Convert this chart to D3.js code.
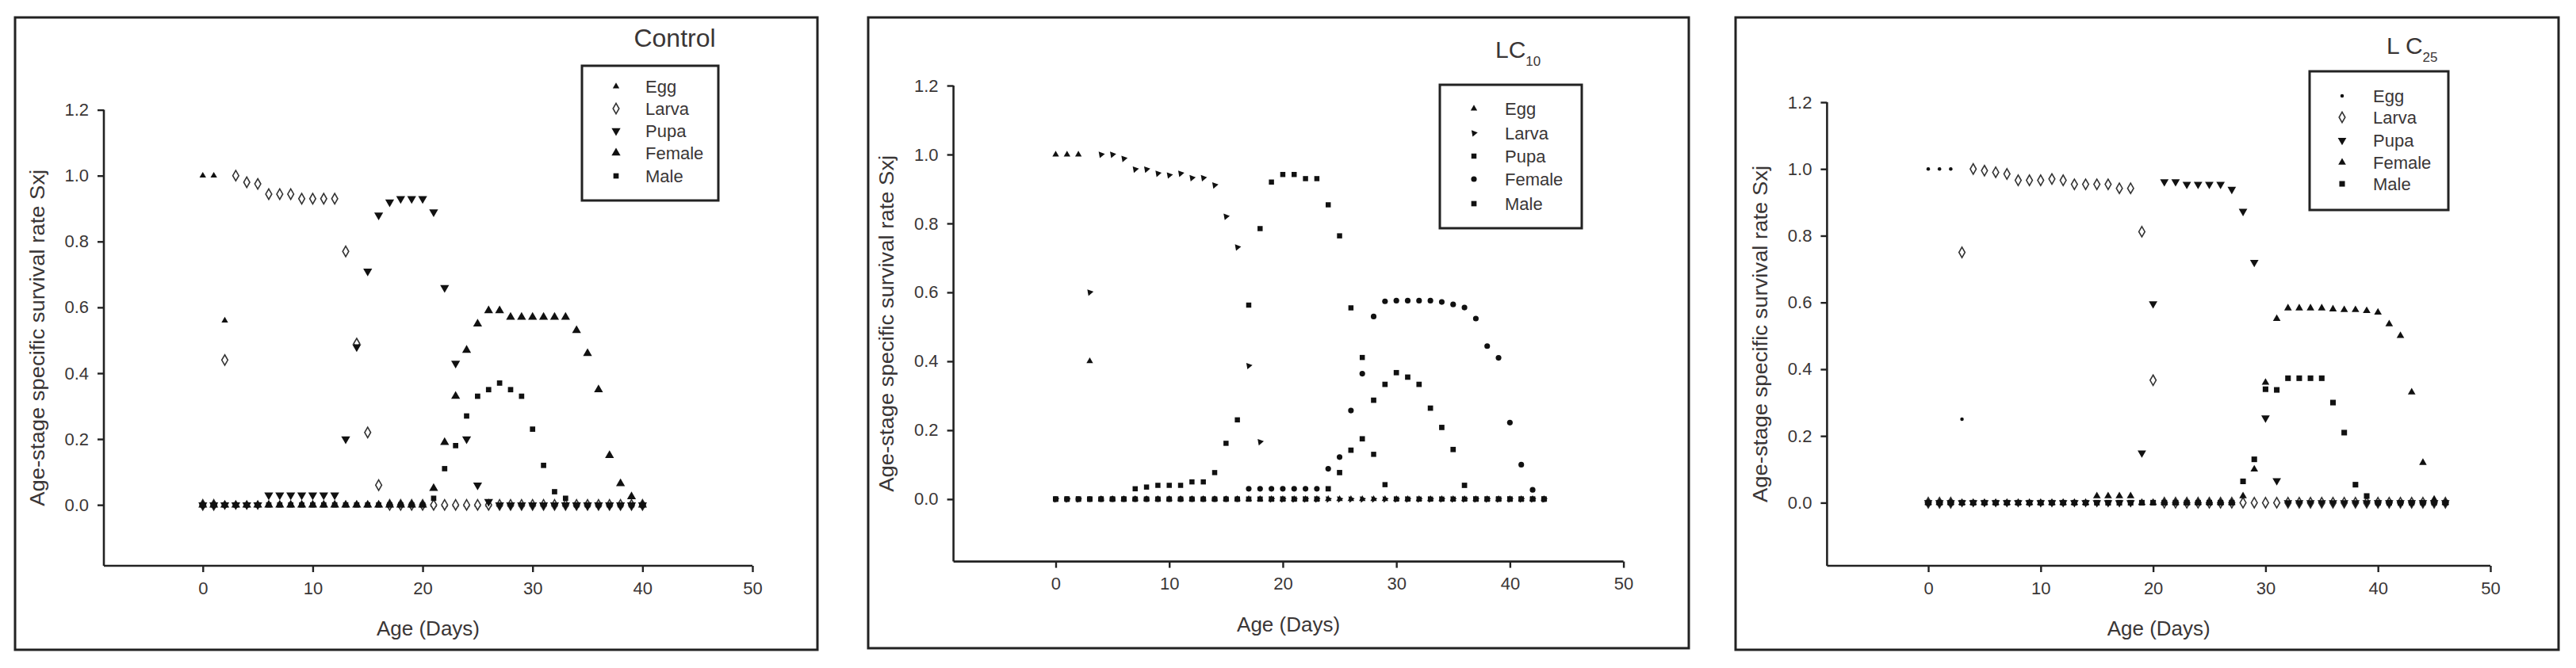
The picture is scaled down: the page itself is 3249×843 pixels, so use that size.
<!DOCTYPE html>
<html>
<head>
<meta charset="utf-8">
<script src="https://cdn.jsdelivr.net/npm/d3@7"></script>
<style>
  body { margin: 0; background: #fff; }
  text { font-family: "Liberation Sans", Arial, sans-serif; fill: #3a3636; }
</style>
</head>
<body>
<svg id="chart" width="3249" height="843"></svg>
<script>
// ---- data (index = age in days) ----
const stages = ["Egg", "Larva", "Pupa", "Female", "Male"];
const xTicks = [0, 10, 20, 30, 40, 50];
const yTicks = [0, 0.2, 0.4, 0.6, 0.8, 1.0, 1.2];

// Control, days 0..40
const controlEgg    = [1,1,0.56,0,0,0,0,0,0,0, 0,0,0,0,0,0,0,0,0,0, 0,0,0,0,0,0,0,0,0,0, 0,0,0,0,0,0,0,0,0,0, 0];
const controlLarva  = [0,0,0.44,1,0.98,0.975,0.944,0.944,0.944,0.93, 0.93,0.93,0.93,0.77,0.49,0.22,0.06,0,0,0, 0,0,0,0,0,0,0,0,0,0, 0,0,0,0,0,0,0,0,0,0, 0];
const controlPupa   = [0,0,0,0,0,0,0.03,0.03,0.03,0.03, 0.03,0.03,0.03,0.20,0.48,0.71,0.88,0.92,0.93,0.93, 0.93,0.89,0.66,0.43,0.20,0.06,0.01,0,0,0, 0,0,0,0,0,0,0,0,0,0, 0];
const controlFemale = [0,0,0,0,0,0,0,0,0,0, 0,0,0,0,0,0,0,0,0,0, 0,0.05,0.19,0.33,0.47,0.55,0.59,0.59,0.57,0.57, 0.57,0.57,0.57,0.57,0.53,0.46,0.35,0.15,0.065,0.025, 0];
const controlMale   = [0,0,0,0,0,0,0,0,0,0, 0,0,0,0,0,0,0,0,0,0, 0,0.02,0.11,0.18,0.27,0.33,0.35,0.37,0.35,0.33, 0.23,0.12,0.04,0.02,0,0,0,0,0,0, 0];

// LC10, days 0..43
const lc10Egg    = [1,1,1,0.4,0,0,0,0,0,0, 0,0,0,0,0,0,0,0,0,0, 0,0,0,0,0,0,0,0,0,0, 0,0,0,0,0,0,0,0,0,0, 0,0,0,0];
const lc10Larva  = [0,0,0,0.6,1,1,0.988,0.957,0.957,0.945, 0.94,0.945,0.932,0.932,0.911,0.82,0.731,0.387,0.166,0, 0,0,0,0,0,0,0,0,0,0, 0,0,0,0,0,0,0,0,0,0, 0,0,0,0];
const lc10Pupa   = [0,0,0,0,0,0,0,0.03,0.035,0.04, 0.04,0.04,0.05,0.05,0.077,0.162,0.23,0.563,0.785,0.92, 0.942,0.942,0.93,0.93,0.854,0.764,0.555,0.411,0.13,0.042, 0,0,0,0,0,0,0,0,0,0, 0,0,0,0];
const lc10Female = [0,0,0,0,0,0,0,0,0,0, 0,0,0,0,0,0,0,0.03,0.03,0.03, 0.03,0.03,0.03,0.03,0.088,0.122,0.257,0.364,0.53,0.574, 0.576,0.576,0.576,0.576,0.572,0.565,0.556,0.524,0.444,0.41, 0.222,0.10,0.027,0];
const lc10Male   = [0,0,0,0,0,0,0,0,0,0, 0,0,0,0,0,0,0,0,0,0, 0,0,0,0,0.03,0.077,0.142,0.175,0.287,0.333, 0.367,0.354,0.333,0.264,0.208,0.144,0.04,0,0,0, 0,0,0,0];

// LC25, days 0..46
const lc25Egg    = [1,1,1,0.25,0,0,0,0,0,0, 0,0,0,0,0,0,0,0,0,0, 0,0,0,0,0,0,0,0,0,0, 0,0,0,0,0,0,0,0,0,0, 0,0,0,0,0,0,0];
const lc25Larva  = [0,0,0,0.75,1,0.995,0.99,0.985,0.966,0.966, 0.966,0.97,0.966,0.954,0.954,0.954,0.954,0.942,0.942,0.812, 0.367,0,0,0,0,0,0,0,0,0, 0,0,0,0,0,0,0,0,0,0, 0,0,0,0,0,0,0];
const lc25Pupa   = [0,0,0,0,0,0,0,0,0,0, 0,0,0,0,0,0,0,0,0,0.149, 0.596,0.962,0.962,0.954,0.954,0.954,0.954,0.939,0.873,0.72, 0.254,0.066,0,0,0,0,0,0,0,0, 0,0,0,0,0,0,0];
const lc25Female = [0,0,0,0,0,0,0,0,0,0, 0,0,0,0,0,0.02,0.02,0.02,0.02,0, 0,0,0,0,0,0,0,0,0.02,0.10, 0.36,0.551,0.583,0.583,0.583,0.583,0.58,0.578,0.578,0.575, 0.57,0.535,0.50,0.331,0.12,0.01,0];
const lc25Male   = [0,0,0,0,0,0,0,0,0,0, 0,0,0,0,0,0,0,0,0,0, 0,0,0,0,0,0,0,0,0.064,0.13, 0.34,0.338,0.373,0.373,0.373,0.373,0.30,0.21,0.054,0.02, 0,0,0,0,0,0,0];

// ---- layout ----
const svg = d3.select("#chart");
const tri = d3.symbolTriangle, sq = d3.symbolSquare, dia = d3.symbolDiamond, cir = d3.symbolCircle;

const panels = [
  { title: "Control", sub: "", series: [controlEgg, controlLarva, controlPupa, controlFemale, controlMale],
    shapes: [{t: tri, r: 120, s: 30}, {t: dia, s: 50, open: true}, {t: tri, r: 180, s: 55}, {t: tri, r: 0, s: 55}, {t: sq, s: 45}],
    frame: [19, 22, 1031, 820], xr: [131, 949], yr: [714, 138.6], ymin: -0.185,
    legend: {box: [734, 83, 906, 253], rows: [109, 137, 165, 193, 222], mx: 777, tx: 814},
    titleAt: [851, 59], anchor: "middle" },
  { title: "LC", sub: "10", series: [lc10Egg, lc10Larva, lc10Pupa, lc10Female, lc10Male],
    shapes: [{t: tri, r: 120, s: 30}, {t: tri, r: 200, s: 30}, {t: sq, s: 42}, {t: cir, s: 40}, {t: sq, s: 45}],
    frame: [1095, 22, 2130, 818], xr: [1202.6, 2047.6], yr: [708.6, 108], ymin: -0.181,
    legend: {box: [1816, 107, 1995, 288], rows: [137, 168, 197, 226, 257], mx: 1859, tx: 1898},
    titleAt: [1886, 73], anchor: "start" },
  { title: "L C", sub: "25", series: [lc25Egg, lc25Larva, lc25Pupa, lc25Female, lc25Male],
    shapes: [{t: cir, s: 16}, {t: dia, s: 50, open: true}, {t: tri, r: 180, s: 50}, {t: tri, r: 0, s: 40}, {t: sq, s: 50}],
    frame: [2189, 22, 3227, 820], xr: [2304.4, 3141], yr: [714, 129], ymin: -0.189,
    legend: {box: [2913, 90, 3088, 265], rows: [121, 148, 177, 205, 232], mx: 2954, tx: 2993},
    titleAt: [3010, 68], anchor: "start" }
];

function marker(sel, shape) {
  sel.attr("d", d3.symbol().type(shape.t).size(shape.s))
    .attr("fill", shape.open ? "#fff" : "#111")
    .attr("stroke", shape.open ? "#333" : "none")
    .attr("stroke-width", shape.open ? 1.6 : 0);
}

panels.forEach(p => {
  const g = svg.append("g");
  const [fx0, fy0, fx1, fy1] = p.frame;
  g.append("rect").attr("x", fx0).attr("y", fy0).attr("width", fx1 - fx0).attr("height", fy1 - fy0)
    .attr("fill", "none").attr("stroke", "#222").attr("stroke-width", 3);

  const x = d3.scaleLinear().domain([-9, 50]).range(p.xr);
  const y = d3.scaleLinear().domain([p.ymin, 1.2]).range(p.yr);

  const xAxis = g.append("g").attr("transform", `translate(0,${p.yr[0]})`)
    .call(d3.axisBottom(x).tickValues(xTicks).tickSize(8).tickPadding(12).tickSizeOuter(0));
  const yAxis = g.append("g").attr("transform", `translate(${p.xr[0]},0)`)
    .call(d3.axisLeft(y).tickValues(yTicks).tickFormat(d3.format(".1f")).tickSize(8).tickPadding(11).tickSizeOuter(0));
  [xAxis, yAxis].forEach(a => {
    a.select(".domain").attr("stroke", "#222").attr("stroke-width", 2.6);
    a.selectAll(".tick line").attr("stroke", "#222").attr("stroke-width", 2.4);
    a.selectAll(".tick text").attr("font-size", 22).attr("fill", "#4a3f52")
      .style("font-family", "'Liberation Sans', Arial, sans-serif");
  });
  // y axis line must reach the x axis start
  yAxis.select(".domain").attr("d", `M0,${p.yr[1]}V${p.yr[0]}`);
  xAxis.select(".domain").attr("d", `M${p.xr[0]},0H${p.xr[1]}`);

  // axis titles
  g.append("text").attr("x", (p.xr[0] + p.xr[1]) / 2).attr("y", p.yr[0] + 88)
    .attr("text-anchor", "middle").attr("font-size", 26).attr("fill", "#4a4258").text("Age (Days)");
  const yc = (p.yr[0] + p.yr[1]) / 2;
  g.append("text").attr("transform", `translate(${p.xr[0] - 84},${yc}) rotate(-90)`)
    .attr("text-anchor", "middle").attr("dy", "0.35em").attr("font-size", 25)
    .attr("textLength", 425).attr("lengthAdjust", "spacingAndGlyphs")
    .attr("fill", "#5a4a30").text("Age-stage specific survival rate Sxj");

  // points
  p.series.forEach((vals, si) => {
    const shape = p.shapes[si];
    g.append("g").selectAll("path")
      .data(vals.map((v, i) => ({day: i, v: v})))
      .join("path")
      .attr("transform", d => `translate(${x(d.day)},${y(d.v)}) rotate(${shape.r || 0})`)
      .call(marker, shape);
  });

  // title
  const t = g.append("text").attr("x", p.titleAt[0]).attr("y", p.titleAt[1])
    .attr("text-anchor", p.anchor).attr("font-size", p.sub ? 30 : 32).attr("fill", "#1e1e1e");
  t.append("tspan").text(p.title);
  if (p.sub) t.append("tspan").attr("font-size", 17).attr("dy", 10).text(p.sub);

  // legend
  const L = p.legend;
  g.append("rect").attr("x", L.box[0]).attr("y", L.box[1])
    .attr("width", L.box[2] - L.box[0]).attr("height", L.box[3] - L.box[1])
    .attr("fill", "#fff").attr("stroke", "#222").attr("stroke-width", 3);
  stages.forEach((s, i) => {
    const shape = p.shapes[i];
    g.append("path").attr("transform", `translate(${L.mx},${L.rows[i]}) rotate(${shape.r || 0})`)
      .call(marker, shape);
    g.append("text").attr("x", L.tx).attr("y", L.rows[i] + 8).attr("font-size", 22)
      .attr("fill", "#4a3f4a").text(s);
  });
});
</script>
</body>
</html>
